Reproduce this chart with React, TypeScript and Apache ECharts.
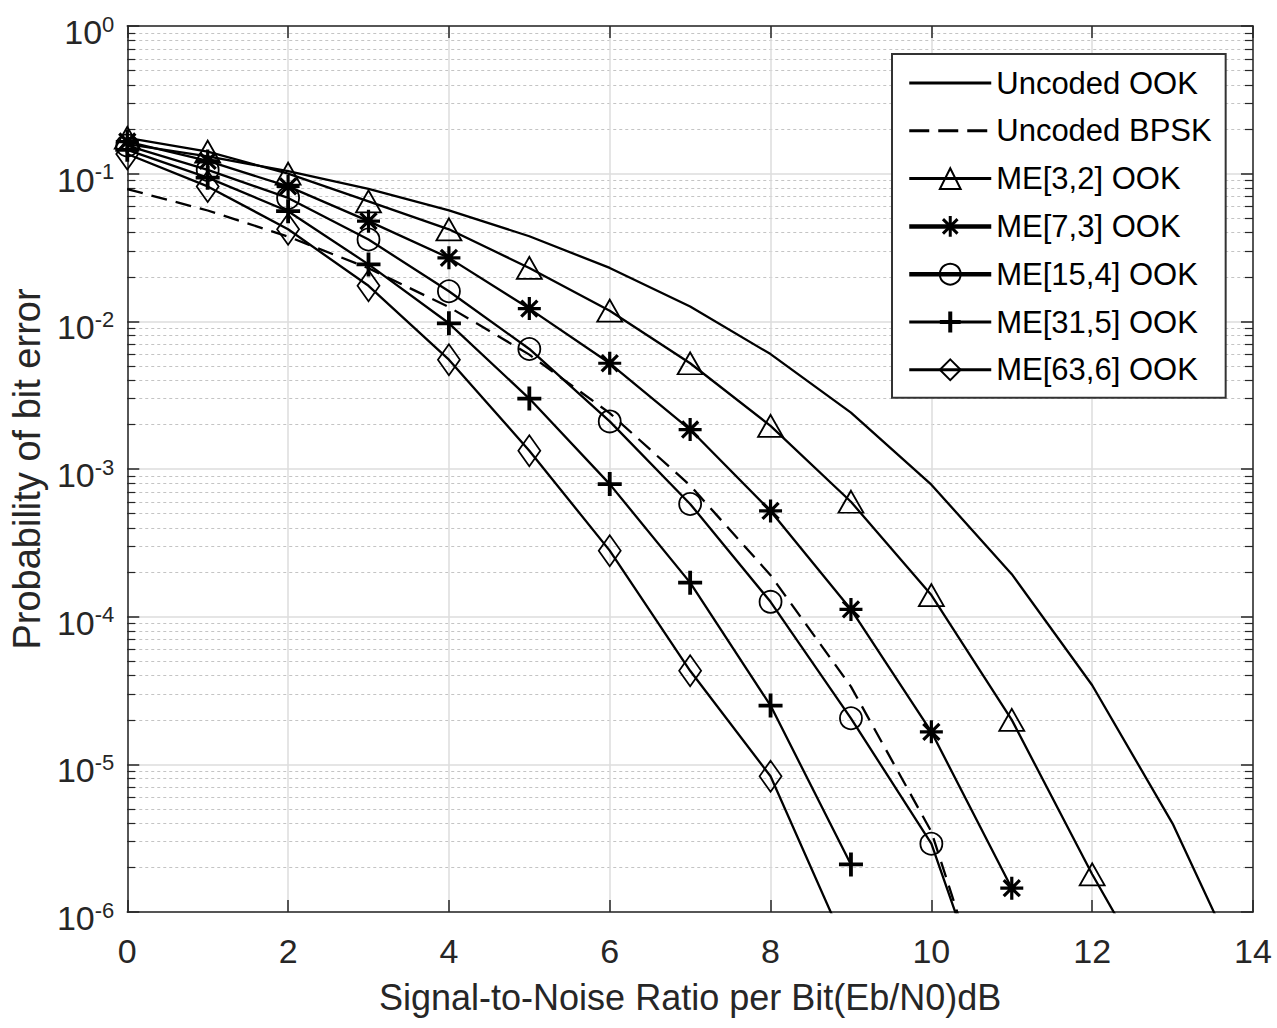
import React, { useEffect, useRef } from "react";
import * as echarts from "echarts";

// ---- data ----
const xTicks = [0, 2, 4, 6, 8, 10, 12, 14];

const xOOK = [0, 1, 2, 3, 4, 5, 6, 7, 8, 9, 10, 11, 12, 13, 14];
const uncodedOOK = [0.1587, 0.1309, 0.104, 0.0789, 0.0565, 0.0377, 0.023, 0.0126, 0.006, 0.00241, 7.83e-4, 1.94e-4, 3.43e-5, 3.97e-6, 2.7e-7];

const xBPSK = [0, 1, 2, 3, 4, 5, 6, 7, 8, 9, 10, 10.5];
const uncodedBPSK = [0.0786, 0.0563, 0.0375, 0.0229, 0.0125, 0.00595, 0.00239, 7.73e-4, 1.91e-4, 3.36e-5, 3.5e-6, 5e-7];

const xME32 = [0, 1, 2, 3, 4, 5, 6, 7, 8, 9, 10, 11, 12, 13];
const me32 = [0.175, 0.141, 0.1, 0.065, 0.042, 0.023, 0.0118, 0.0052, 0.00196, 6.0e-4, 1.4e-4, 2.0e-5, 1.8e-6, 2e-7];

const xME73 = [0, 1, 2, 3, 4, 5, 6, 7, 8, 9, 10, 11];
const me73 = [0.165, 0.122, 0.082, 0.0477, 0.0269, 0.0122, 0.0052, 0.00185, 5.2e-4, 1.12e-4, 1.66e-5, 1.45e-6];

const xME154 = [0, 1, 2, 3, 4, 5, 6, 7, 8, 9, 10, 11];
const me154 = [0.155, 0.106, 0.0685, 0.0358, 0.016, 0.0065, 0.0021, 5.8e-4, 1.26e-4, 2.05e-5, 2.9e-6, 8e-8];

const xME315 = [0, 1, 2, 3, 4, 5, 6, 7, 8, 9];
const me315 = [0.145, 0.094, 0.0557, 0.0243, 0.0097, 0.003, 7.9e-4, 1.7e-4, 2.5e-5, 2.1e-6];

const xME636 = [0, 1, 2, 3, 4, 5, 6, 7, 8, 9];
const me636 = [0.136, 0.082, 0.042, 0.0174, 0.0055, 0.00133, 2.8e-4, 4.3e-5, 8.3e-6, 4.9e-7];

const seriesNames = [
  "Uncoded OOK",
  "Uncoded BPSK",
  "ME[3,2] OOK",
  "ME[7,3] OOK",
  "ME[15,4] OOK",
  "ME[31,5] OOK",
  "ME[63,6] OOK",
];

const xTitle = "Signal-to-Noise Ratio per Bit(Eb/N0)dB";
const yTitle = "Probability of bit error";

const FONT = "'Liberation Sans', Arial, Helvetica, sans-serif";
const AXIS_COLOR = "#262626";

const STAR = "path://M0,-10L0,10M-10,0L10,0M-7,-7L7,7M-7,7L7,-7";
const PLUS = "path://M0,-10L0,10M-10,0L10,0";

const pairs = (xs: number[], ys: number[]) => xs.map((x, i) => [x, ys[i]]);

export default function App() {
  const ref = useRef<HTMLDivElement>(null);

  useEffect(() => {
    if (!ref.current) return;
    const chart = echarts.init(ref.current, undefined, { renderer: "svg" });

    const LW = 2.3;

    const lineBase = (name: string, data: number[][]) => ({
      name,
      type: "line",
      data,
      xAxisIndex: 0,
      yAxisIndex: 0,
      clip: true,
      showAllSymbol: true,
      lineStyle: { color: "#000", width: LW },
      emphasis: { disabled: true },
      z: 3,
    });

    const hollow = (bw: number) => ({ color: "rgba(0,0,0,0)", borderColor: "#000", borderWidth: bw });

    const series: any[] = [
      {
        ...lineBase(seriesNames[0], pairs(xOOK, uncodedOOK)),
        symbol: "none",
        itemStyle: { color: "rgba(0,0,0,0)", borderColor: "rgba(0,0,0,0)", borderWidth: 0 },
      },
      {
        ...lineBase(seriesNames[1], pairs(xBPSK, uncodedBPSK)),
        symbol: "none",
        lineStyle: { color: "#000", width: LW, type: [16, 9] },
        itemStyle: { color: "rgba(0,0,0,0)", borderColor: "rgba(0,0,0,0)", borderWidth: 0 },
      },
      {
        ...lineBase(seriesNames[2], pairs(xME32, me32)),
        symbol: "triangle",
        symbolSize: [25, 22],
        itemStyle: hollow(1.8),
      },
      {
        ...lineBase(seriesNames[3], pairs(xME73, me73)),
        symbol: STAR,
        symbolSize: 23,
        itemStyle: hollow(3.2),
      },
      {
        ...lineBase(seriesNames[4], pairs(xME154, me154)),
        symbol: "circle",
        symbolSize: 22,
        itemStyle: hollow(1.8),
      },
      {
        ...lineBase(seriesNames[5], pairs(xME315, me315)),
        symbol: PLUS,
        symbolSize: 24,
        itemStyle: hollow(3.8),
      },
      {
        ...lineBase(seriesNames[6], pairs(xME636, me636)),
        symbol: "diamond",
        symbolSize: [22, 31],
        itemStyle: hollow(1.8),
      },
    ];

    const legendData = seriesNames.map((n, i) => {
      if (i === 3) return { name: n, lineStyle: { width: 4.5 }, itemStyle: { borderWidth: 3 } };
      if (i === 4) return { name: n, lineStyle: { width: 4.5 }, itemStyle: { borderWidth: 2 } };
      if (i === 5) return { name: n, lineStyle: { width: 3 }, itemStyle: { borderWidth: 4 } };
      if (i === 1) return { name: n, lineStyle: { width: 3, type: [20, 9] } };
      return { name: n, lineStyle: { width: 3 } };
    });

    const option: any = {
      animation: false,
      backgroundColor: "#fff",
      textStyle: { fontFamily: FONT },
      grid: { left: 126, top: 26, right: 24, bottom: 116, containLabel: false },
      legend: {
        orient: "vertical",
        left: 892,
        top: 54,
        data: legendData,
        padding: [11, 14, 10, 15],
        itemWidth: 82,
        itemHeight: 26,
        itemGap: 11.8,
        backgroundColor: "#fff",
        borderColor: "#333",
        borderWidth: 2,
        borderRadius: 0,
        selectedMode: false,
        textStyle: { fontSize: 31, color: "#000", fontFamily: FONT, lineHeight: 36, padding: [0, 0, 0, 0] },
        z: 10,
      },
      xAxis: [
        {
          type: "value",
          min: xTicks[0],
          max: xTicks[xTicks.length - 1],
          interval: 2,
          position: "bottom",
          name: xTitle,
          nameLocation: "middle",
          nameGap: 67,
          nameTextStyle: { fontSize: 36, color: AXIS_COLOR, fontFamily: FONT },
          axisLine: { show: true, onZero: false, lineStyle: { color: AXIS_COLOR, width: 1.5 } },
          axisTick: { show: true, inside: true, length: 12, lineStyle: { color: AXIS_COLOR, width: 1.5 } },
          axisLabel: { show: true, margin: 22, fontSize: 34, color: AXIS_COLOR, fontFamily: FONT },
          splitLine: { show: true, lineStyle: { color: "#dcdcdc", width: 1.5 } },
        },
        {
          type: "value",
          min: xTicks[0],
          max: xTicks[xTicks.length - 1],
          interval: 2,
          position: "top",
          axisLine: { show: true, onZero: false, lineStyle: { color: AXIS_COLOR, width: 1.5 } },
          axisTick: { show: true, inside: true, length: 12, lineStyle: { color: AXIS_COLOR, width: 1.5 } },
          axisLabel: { show: false },
          splitLine: { show: false },
        },
      ],
      yAxis: [
        {
          type: "log",
          logBase: 10,
          min: 1e-6,
          max: 1,
          interval: 1,
          position: "left",
          name: yTitle,
          nameLocation: "middle",
          nameGap: 80,
          nameTextStyle: { fontSize: 38, color: AXIS_COLOR, fontFamily: FONT },
          axisLine: { show: true, onZero: false, lineStyle: { color: AXIS_COLOR, width: 1.5 } },
          axisTick: { show: true, inside: true, length: 12, lineStyle: { color: AXIS_COLOR, width: 1.5 } },
          minorTick: { show: true, splitNumber: 9, length: 8, lineStyle: { color: AXIS_COLOR, width: 1.2 } },
          axisLabel: {
            show: true,
            margin: 13,
            color: AXIS_COLOR,
            fontFamily: FONT,
            padding: [10, 0, 0, 0],
            formatter: (v: number) => `{b|10}{s|${Math.round(Math.log10(v))}}`,
            rich: {
              b: { fontSize: 34, lineHeight: 36, verticalAlign: "bottom", color: AXIS_COLOR, fontFamily: FONT },
              s: { fontSize: 22, lineHeight: 22, padding: [0, 0, 17.5, 0], verticalAlign: "top", color: AXIS_COLOR, fontFamily: FONT },
            },
          },
          splitLine: { show: true, lineStyle: { color: "#dcdcdc", width: 1.5 } },
          minorSplitLine: { show: true, lineStyle: { color: "#c4c4c4", width: 1, type: [3, 3] } },
        },
        {
          type: "log",
          logBase: 10,
          min: 1e-6,
          max: 1,
          interval: 1,
          position: "right",
          axisLine: { show: true, onZero: false, lineStyle: { color: AXIS_COLOR, width: 1.5 } },
          axisTick: { show: true, inside: true, length: 12, lineStyle: { color: AXIS_COLOR, width: 1.5 } },
          minorTick: { show: true, splitNumber: 9, length: 8, lineStyle: { color: AXIS_COLOR, width: 1.2 } },
          axisLabel: { show: false },
          splitLine: { show: false },
          minorSplitLine: { show: false },
        },
      ],
      series,
    };

    chart.setOption(option);
    return () => chart.dispose();
  }, []);

  return (
    <div
      ref={ref}
      style={{ position: "fixed", left: 0, top: 0, width: 1277, height: 1028, background: "#fff" }}
    />
  );
}
